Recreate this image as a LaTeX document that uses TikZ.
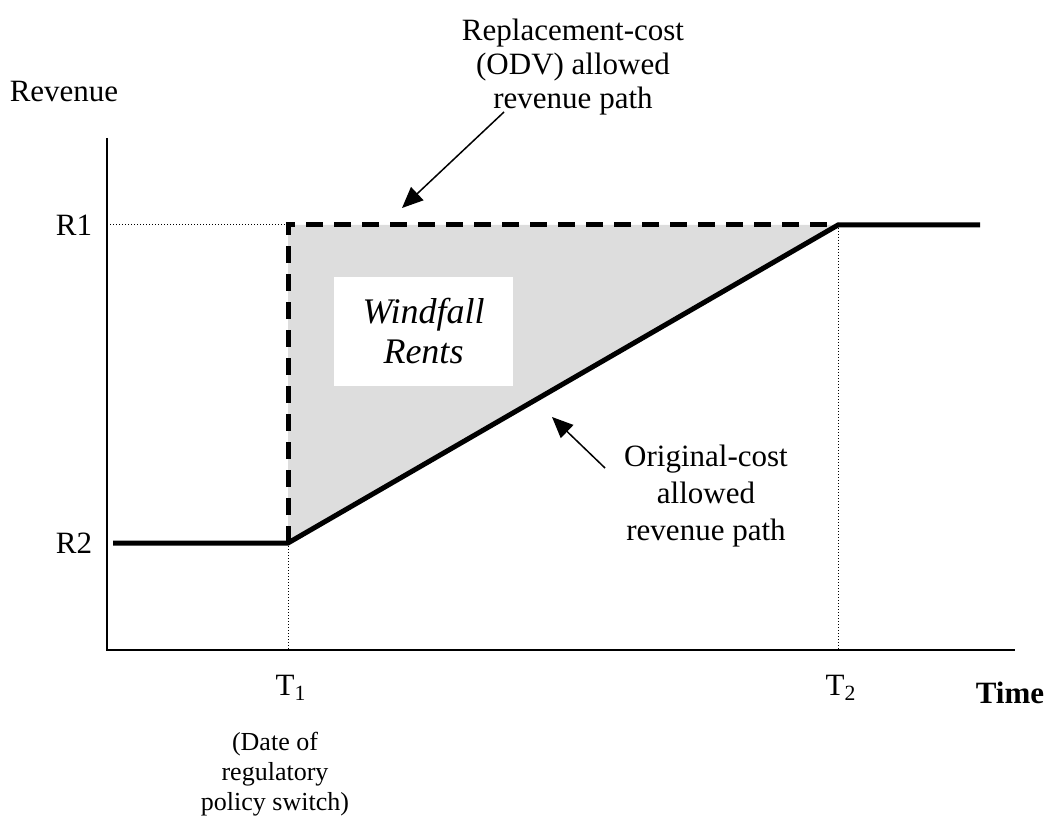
\documentclass[tikz,border=0pt]{standalone}
\usepackage{fontspec}
\setmainfont{Liberation Serif}
\usetikzlibrary{arrows.meta}
\definecolor{rentgray}{RGB}{221,221,221}

\tikzset{
  lbl/.style={font=\fontsize{15.5}{17}\selectfont, align=center, inner sep=0pt},
  note/.style={font=\fontsize{13}{15}\selectfont, align=center, inner sep=0pt},
  rentbox/.style={fill=white, minimum width=89.5pt, minimum height=54.5pt, align=center,
    font=\fontsize{18}{20}\selectfont\itshape},
  revpath/.style={line width=2.5pt},
  odvpath/.style={line width=2.5pt, dash pattern=on 8.5pt off 5.5pt},
  guide/.style={line width=0.5pt, dash pattern=on 0.5pt off 1pt},
  axis/.style={line width=1pt},
  pointer/.style={line width=0.75pt, -{Triangle[length=10.5pt,width=9pt]}}
}

\begin{document}
\begin{tikzpicture}[x=0.5pt, y=-0.5pt]
        \useasboundingbox (0,0) rectangle (1048,817);

        % Punts clau
        \coordinate (t1r1) at (288,225);
        \coordinate (t1r2) at (288,543);
        \coordinate (t2r1) at (838,225);

        % Rendes extraordinaries (zona grisa)
        \fill[rentgray] (t1r1) -- (t2r1) -- (t1r2) -- cycle;
        \node[rentbox] (rents) at (423.5,331.5) {Windfall\\Rents};

        % Linies guia
        \draw[guide] (107,225) -- (t1r1);
        \draw[guide] (t1r2) -- (288,650);
        \draw[guide] (t2r1) -- (838,650);

        % Eixos
        \draw[axis] (107,138) -- (107,650) -- (1015,650);

        % Cami de cost original
        \draw[revpath] (113,543) -- (t1r2) -- (t2r1) -- (980,225);
        % Cami de cost de reposicio (ODV)
        \draw[odvpath] (t1r2) -- (t1r1) -- (t2r1);

        % Etiquetes
        \node[lbl] (revenue) at (64,92) {Revenue};
        \node[lbl] (r1) at (74,225) {R1};
        \node[lbl] (r2) at (74,543) {R2};
        \node[lbl] (t1) at (291,688) {T\textsubscript{1}};
        \node[lbl] (t2) at (841,688) {T\textsubscript{2}};
        \node[lbl, font=\fontsize{15.5}{17}\selectfont\bfseries] (time) at (1010,693) {Time};
        \node[note] (switch) at (275,774) {(Date of\\regulatory\\policy switch)};

        \node[lbl] (odv) at (573,67) {Replacement-cost\\(ODV) allowed\\revenue path};
        \node[lbl, font=\fontsize{15.5}{18.5}\selectfont] (orig) at (706,496) {Original-cost\\allowed\\revenue path};

        % Fletxes
        \coordinate (odvtail) at (504,112);
        \coordinate (odvtip) at (402,208);
        \draw[pointer] (odvtail) -- (odvtip);
        \coordinate (origtail) at (605,468);
        \coordinate (origtip) at (552,417);
        \draw[pointer] (origtail) -- (origtip);
    \end{tikzpicture}
\end{document}
